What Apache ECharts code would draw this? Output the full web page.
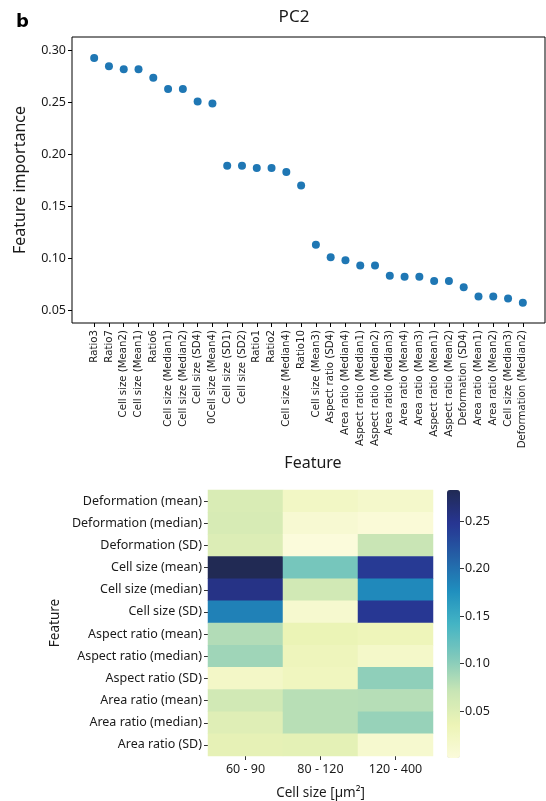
<!DOCTYPE html>
<html>
<head>
<meta charset="utf-8">
<script src="https://cdn.jsdelivr.net/npm/echarts@6/dist/echarts.min.js"></script>
<style>
html,body{margin:0;padding:0;background:#fff;}
#c{width:546px;height:801px;}
</style>
</head>
<body>
<div id="c"></div>
<script>
// ---- Top panel: PC2 feature importance ----
var features = ["Ratio3","Ratio7","Cell size (Mean2)","Cell size (Mean1)","Ratio6","Cell size (Median1)","Cell size (Median2)","Cell size (SD4)","0Cell size (Mean4)","Cell size (SD1)","Cell size (SD2)","Ratio1","Ratio2","Cell size (Median4)","Ratio10","Cell size (Mean3)","Aspect ratio (SD4)","Area ratio (Median4)","Aspect ratio (Median1)","Aspect ratio (Median2)","Area ratio (Median3)","Area ratio (Mean4)","Area ratio (Mean3)","Aspect ratio (Mean1)","Aspect ratio (Mean2)","Deformation (SD4)","Area ratio (Mean1)","Area ratio (Mean2)","Cell size (Median3)","Deformation (Median2)"];
var importance = [0.293,0.285,0.282,0.282,0.274,0.263,0.263,0.251,0.249,0.189,0.189,0.187,0.187,0.183,0.170,0.113,0.101,0.098,0.093,0.093,0.083,0.082,0.082,0.078,0.078,0.072,0.063,0.063,0.061,0.057];
var importanceTicks = [0.05,0.10,0.15,0.20,0.25,0.30];

// ---- Bottom panel: heatmap ----
var heatRows = ["Deformation (mean)","Deformation (median)","Deformation (SD)","Cell size (mean)","Cell size (median)","Cell size (SD)","Aspect ratio (mean)","Aspect ratio (median)","Aspect ratio (SD)","Area ratio (mean)","Area ratio (median)","Area ratio (SD)"];
var heatCols = ["60 - 90","80 - 120","120 - 400"];
var col60_90   = [0.054,0.056,0.052,0.2826,0.254,0.187,0.082,0.091,0.020,0.062,0.049,0.042];
var col80_120  = [0.022,0.009,0.0006,0.112,0.062,0.012,0.037,0.030,0.027,0.079,0.079,0.044];
var col120_400 = [0.016,0.004,0.070,0.243,0.181,0.246,0.032,0.018,0.099,0.080,0.095,0.012];
var colorbarTicks = [0.05,0.10,0.15,0.20,0.25];
var YlGnBu = ["#fbfbdb","#ecf4b6","#c8e5b5","#80c9bb","#44b4c4","#1f8ebe","#2460a6","#273592","#212a54"];

var cols = [col60_90, col80_120, col120_400];
var heatData = [];
cols.forEach(function(col, c){ col.forEach(function(v, r){ heatData.push([c, r, v]); }); });
var vMin = Math.min.apply(null, heatData.map(function(d){return d[2];}));
var vMax = Math.max.apply(null, heatData.map(function(d){return d[2];}));

var scatterData = importance.map(function(v, i){ return [i, v]; });
var idx = features.map(function(_, i){ return i; });

var txt = '#1a1a1a';
var font = 'Noto Sans';

var chart = echarts.init(document.getElementById('c'), null, {renderer:'canvas'});
chart.setOption({
  backgroundColor: '#fff',
  animation: false,
  textStyle: {fontFamily: font, color: txt},
  grid: [
    {left: 72, top: 37, width: 473, height: 286, show: true, borderColor: '#000', borderWidth: 1, backgroundColor: 'transparent', containLabel: false},
    {left: 208, top: 490, width: 225, height: 268, containLabel: false},
    {left: 447, top: 490, width: 13, height: 268, containLabel: false}
  ],
  xAxis: [
    {gridIndex: 0, type: 'value', min: -1.5, max: 30.5,
     axisLine: {show: false, onZero: false}, splitLine: {show: false},
     axisTick: {show: true, inside: false, length: 4, customValues: idx, lineStyle: {color: '#000'}},
     axisLabel: {show: true, customValues: idx, rotate: 90, margin: 7, fontSize: 10.2, fontFamily: 'DejaVu Sans', color: txt,
       formatter: function(v){ return features[Math.round(v)]; }}},
    {gridIndex: 1, type: 'category', data: heatCols,
     axisLine: {show: false, onZero: false}, splitLine: {show: false},
     axisTick: {show: true, alignWithLabel: true, length: 4, lineStyle: {color: '#333'}},
     axisLabel: {fontSize: 12.5, color: txt, margin: 7},
     name: 'Cell size [µm²]', nameLocation: 'middle', nameGap: 30, nameTextStyle: {fontSize: 13.5, color: txt}},
    {gridIndex: 2, type: 'value', show: false, min: 0, max: 1}
  ],
  yAxis: [
    {gridIndex: 0, type: 'value', min: 0.0375, max: 0.3132,
     axisLine: {show: false, onZero: false}, splitLine: {show: false},
     axisTick: {show: true, length: 4, customValues: importanceTicks, lineStyle: {color: '#000'}},
     axisLabel: {customValues: importanceTicks, fontSize: 12.5, color: txt, margin: 6,
       formatter: function(v){ return v.toFixed(2); }},
     name: 'Feature importance', nameLocation: 'middle', nameGap: 44, nameTextStyle: {fontSize: 16, color: txt}},
    {gridIndex: 1, type: 'category', data: heatRows, inverse: true,
     axisLine: {show: false, onZero: false}, splitLine: {show: false},
     axisTick: {show: true, alignWithLabel: true, length: 4, lineStyle: {color: '#333'}},
     axisLabel: {fontSize: 12.5, color: txt, margin: 6},
     name: 'Feature', nameLocation: 'middle', nameGap: 146, nameTextStyle: {fontSize: 13.5, color: txt}},
    {gridIndex: 2, type: 'value', position: 'right', min: vMin, max: vMax,
     axisLine: {show: false, onZero: false}, splitLine: {show: false},
     axisTick: {show: true, length: 4, customValues: colorbarTicks, lineStyle: {color: '#333'}},
     axisLabel: {customValues: colorbarTicks, fontSize: 12.5, color: txt, margin: 5,
       formatter: function(v){ return v.toFixed(2); }}}
  ],
  visualMap: {
    type: 'continuous', min: vMin, max: vMax, calculable: false, orient: 'vertical',
    left: 447, top: 490, itemWidth: 13, itemHeight: 268, text: null, showLabel: false,
    padding: 0, seriesIndex: 1, dimension: 2,
    inRange: {color: YlGnBu}
  },
  graphic: [
    {type: 'text', x: 16, y: 22, style: {text: 'b', font: 'bold 18px "DejaVu Sans"', fill: '#000', textVerticalAlign: 'middle'}},
    {type: 'text', x: 294, y: 17, style: {text: 'PC2', font: '17px "Noto Sans"', fill: txt, textAlign: 'center', textVerticalAlign: 'middle'}},
    {type: 'text', x: 313, y: 463, style: {text: 'Feature', font: '16px "Noto Sans"', fill: txt, textAlign: 'center', textVerticalAlign: 'middle'}}
  ],
  series: [
    {type: 'scatter', xAxisIndex: 0, yAxisIndex: 0, data: scatterData, symbolSize: 8,
     itemStyle: {color: '#1f77b4', opacity: 1}},
    {type: 'heatmap', xAxisIndex: 1, yAxisIndex: 1, data: heatData}
  ]
});
</script>
</body>
</html>
